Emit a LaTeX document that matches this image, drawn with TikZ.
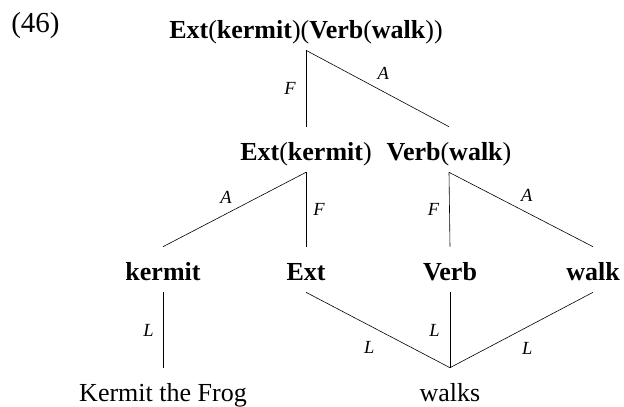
\documentclass[tikz,border=0pt]{standalone}
\usepackage{fontspec}
\setmainfont{Liberation Serif}
\begin{document}
\begin{tikzpicture}[x=1pt, y=-1pt, line width=0.6pt,
        every node/.style={font=\fontsize{26}{31}\selectfont},
        tn/.style={anchor=base, inner sep=0pt, text height=33pt, text depth=12pt},
        cat/.style={tn, font=\fontsize{26}{31}\selectfont\bfseries},
        lab/.style={inner sep=0pt, font=\fontsize{18.5}{19}\selectfont\itshape}]
        \useasboundingbox (0,0) rectangle (624,407);
        \node[anchor=base west, inner sep=0pt, font=\fontsize{29}{34}\selectfont] (ex) at (11,32) {(46)};
        \node[tn] (root) at (306,38) {\textbf{Ext}(\textbf{kermit})(\textbf{Verb}(\textbf{walk}))};

        \node[tn] (ek) at (306,160) {\textbf{Ext}(\textbf{kermit})};
        \node[tn] (vw) at (449,160) {\textbf{Verb}(\textbf{walk})};
        \draw (root.south)--node[lab, left=10pt] {F} (ek.north);
        \draw (root.south)--node[lab, pos=0.54, above=12pt] {A} (vw.north);

        \node[cat] (kermit) at (163,280) {kermit};
        \node[cat] (ext) at (306,280) {Ext};
        \node[cat] (verb) at (450,280) {Verb};
        \node[cat] (walk) at (593,280) {walk};
        \draw (ek.south)--node[lab, pos=0.56, above=10pt] {A} (kermit.north);
        \draw (ek.south)--node[lab, right=7pt] {F} (ext.north);
        \draw (vw.south)--node[lab, left=10pt] {F} (verb.north);
        \draw (vw.south)--node[lab, pos=0.54, above=11pt] {A} (walk.north);

        \node[tn] (frog) at (163,401) {Kermit the Frog};
        \node[tn] (walks) at (450,401) {walks};
        \draw (kermit.south)--node[lab, left=9pt] {L} (frog.north);
        \draw (ext.south)--node[lab, pos=0.44, below=16pt] {L} (walks.north);
        \draw (verb.south)--node[lab, left=10pt] {L} (walks.north);
        \draw (walk.south)--node[lab, pos=0.46, below=15pt] {L} (walks.north);
    \end{tikzpicture}
\end{document}
